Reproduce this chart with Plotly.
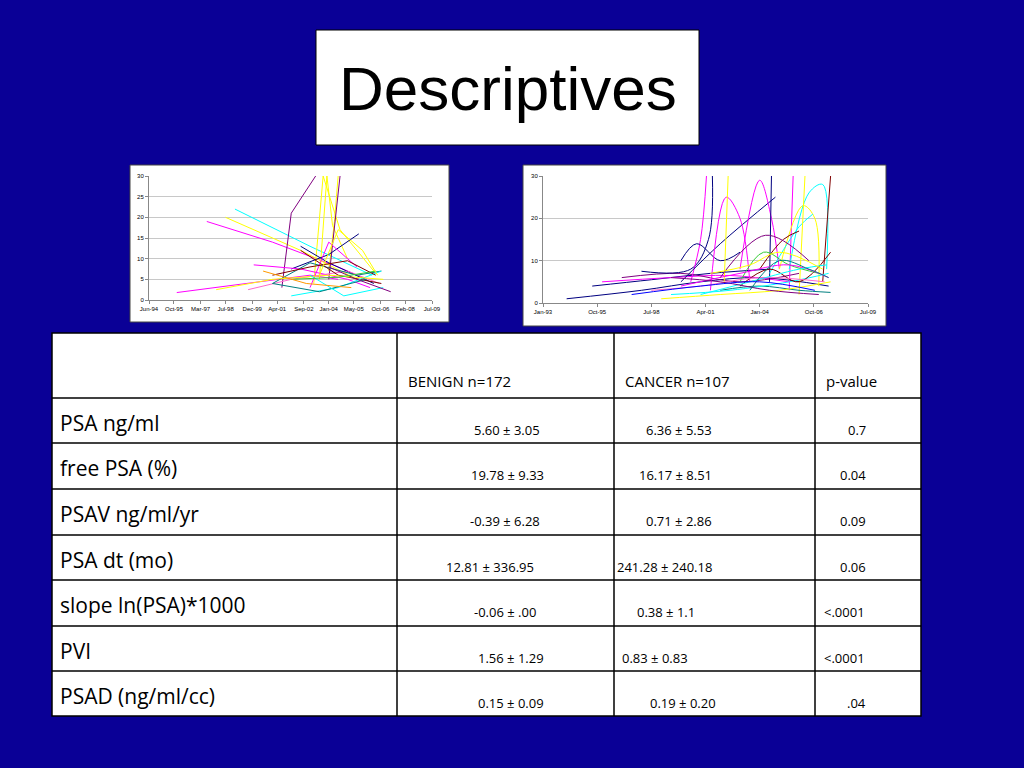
import plotly.graph_objects as go

BG = "#0A0096"
PAL = ["#000080", "#FF00FF", "#FFFF00", "#00FFFF", "#800080", "#800000", "#008080", "#0000FF",
       "#FF66CC", "#33CC33", "#FF9900", "#9999FF"]

# chart 1 (benign) trajectories: x in decimal years, y PSA
benign_x = [
    [1995.9, 1999.5, 2003.0, 2004.5], [1997.5, 2001.0, 2004.5, 2006.0], [1998.5, 2002.5, 2005.5],
    [1999.0, 2003.0, 2006.3], [2001.5, 2002.0, 2003.3], [2003.5, 2003.9, 2004.2, 2005.0],
    [2003.2, 2003.7, 2004.6, 2006.4], [2004.0, 2004.3, 2004.5], [2004.0, 2004.3, 2004.6],
    [2002.5, 2004.0, 2006.4], [2002.0, 2004.0, 2005.6], [2000.0, 2002.5, 2005.0, 2006.2],
    [1999.7, 2002.0, 2005.0, 2006.7], [2001.0, 2003.0, 2005.5, 2006.8], [2002.5, 2004.5, 2006.8],
    [2003.0, 2004.0, 2005.5], [2002.0, 2004.5, 2006.8], [2001.0, 2003.5, 2006.0],
    [1998.0, 2001.0, 2004.0, 2006.9], [2003.0, 2004.8, 2006.9], [2004.0, 2005.5, 2007.3],
    [2001.0, 2003.0, 2005.0, 2006.5], [2002.0, 2004.5, 2006.5], [2003.5, 2004.5, 2005.8, 2006.6],
    [2000.5, 2002.8, 2005.2],
]
benign_y = [
    [1.8, 4.0, 6.0, 5.0], [19, 14, 8, 5], [20, 12, 5], [22, 13, 6], [3, 21, 30], [5, 30, 18, 10],
    [4, 30, 17, 7], [7, 19, 30], [5, 18, 30], [13, 9, 4], [7.5, 11, 16], [8.5, 7.5, 5, 3],
    [2.5, 5, 7, 4], [4, 9, 6, 7], [12, 6, 4], [3, 14, 8], [1, 3, 7], [4, 2, 5], [2.5, 5, 6, 5],
    [6, 1, 3], [8, 5, 2], [6, 8, 9.5, 6], [5, 5.5, 7], [6, 17, 12, 6], [7, 4, 3],
]
benign_c = [1, 1, 2, 3, 4, 2, 2, 2, 4, 0, 0, 1, 8, 6, 5, 1, 3, 6, 2, 3, 4, 5, 9, 2, 10]

cancer_x = [
    [1994.2, 1998.0, 2001.0, 2004.0, 2007.5], [1995.5, 1998.5, 2001.5, 2004.5], [1996.0, 1999.5, 2002.5, 2005.5],
    [1997.0, 2000.0, 2003.0, 2006.0], [1998.0, 2000.5, 2001.4, 2001.6], [2000.5, 2001.0, 2001.3],
    [2000.0, 2002.0, 2004.8], [2000.0, 2000.8, 2002.0, 2003.0], [2001.5, 2002.3, 2003.0, 2003.5],
    [2002.2, 2002.4], [2003.0, 2004.0, 2004.6, 2005.0], [2004.5, 2004.6], [2005.5, 2005.7],
    [2005.0, 2006.2, 2006.8, 2007.0], [2005.5, 2006.5, 2007.2, 2007.4], [2004.5, 2006.0, 2006.7],
    [2006.0, 2006.3], [2007.2, 2007.6], [2002.0, 2004.0, 2006.0, 2007.6], [1999.0, 2002.0, 2005.0, 2007.6],
    [1999.5, 2002.5, 2005.5, 2007.5], [2003.0, 2004.5, 2006.0, 2007.6], [2004.0, 2005.2, 2006.0],
    [2003.0, 2004.2, 2005.5, 2007.0], [1998.5, 2001.0, 2004.0, 2007.3], [2000.0, 2003.0, 2005.5, 2007.5],
    [2001.0, 2003.5, 2006.0, 2007.4], [1999.5, 2002.0, 2004.5, 2007.0], [2002.0, 2004.3, 2006.5],
    [2003.5, 2005.0, 2006.5, 2007.5], [1997.5, 2001.0, 2004.0, 2006.8], [2001.5, 2003.5, 2005.0, 2007.2],
]
cancer_y = [
    [1, 3, 5, 6, 4], [4, 5.5, 7, 8], [5, 6, 6.5, 5], [6, 7, 5, 7], [7.5, 8, 15, 30], [5, 15, 30],
    [5, 14, 25], [10, 14, 10, 12], [3, 25, 20, 5], [5, 30], [8, 29, 20, 8], [5, 30], [3, 30],
    [8, 23, 20, 4], [8, 26, 28, 8], [7, 18, 21], [2, 30], [5, 30], [3, 4, 3, 2.5], [1, 2, 3, 5],
    [2, 3, 5, 7], [4, 8, 5, 12], [8, 15, 17], [5, 12, 9, 7], [3, 4, 6, 5], [4, 7, 9, 6],
    [2, 5, 8, 9], [6, 5, 3, 2], [6, 16, 10], [3, 10, 8, 6], [2, 4, 5, 3], [7, 9, 12, 8],
]
cancer_c = [0, 0, 1, 4, 0, 1, 0, 0, 1, 2, 1, 0, 1, 2, 3, 3, 2, 5, 6, 2, 3, 5, 5, 9, 8, 1, 3, 4, 4, 6, 7, 2]

ticks1 = [1994.42, 1995.75, 1997.17, 1998.5, 1999.92, 2001.25, 2002.67, 2004.0, 2005.33, 2006.75, 2008.08, 2009.5]
labels1 = ["Jun-94", "Oct-95", "Mar-97", "Jul-98", "Dec-99", "Apr-01", "Sep-02", "Jan-04", "May-05", "Oct-06", "Feb-08", "Jul-09"]
ticks2 = [1993.0, 1995.75, 1998.5, 2001.25, 2004.0, 2006.75, 2009.5]
labels2 = ["Jan-93", "Oct-95", "Jul-98", "Apr-01", "Jan-04", "Oct-06", "Jul-09"]

col_heads = ["", "BENIGN n=172", "CANCER n=107", "p-value"]
row_labels = ["PSA ng/ml", "free PSA (%)", "PSAV ng/ml/yr", "PSA dt (mo)", "slope ln(PSA)*1000", "PVI", "PSAD (ng/ml/cc)"]
benign_vals = ["5.60 ± 3.05", "19.78 ± 9.33", "-0.39 ± 6.28", "12.81 ± 336.95", "-0.06 ± .00", "1.56 ± 1.29", "0.15 ± 0.09"]
cancer_vals = ["6.36 ± 5.53", "16.17 ± 8.51", "0.71 ± 2.86", "241.28 ± 240.18", "0.38 ± 1.1", "0.83 ± 0.83", "0.19 ± 0.20"]
p_vals = ["0.7", "0.04", "0.09", "0.06", "<.0001", "<.0001", ".04"]

OFF = 8
W, H = 1024 - 2 * OFF, 768 - 2 * OFF
def px(x): return (x - OFF) / W
def py(y): return 1 - (y - OFF) / H

fig = go.Figure()
for xs, ys, c in zip(benign_x, benign_y, benign_c):
    fig.add_trace(go.Scatter(x=xs, y=ys, mode="lines", line=dict(color=PAL[c], width=1),
                             xaxis="x", yaxis="y", showlegend=False, hoverinfo="skip"))
for xs, ys, c in zip(cancer_x, cancer_y, cancer_c):
    fig.add_trace(go.Scatter(x=xs, y=ys, mode="lines", line=dict(color=PAL[c], width=1, shape="spline"),
                             xaxis="x2", yaxis="y2", showlegend=False, hoverinfo="skip"))

ax = dict(showgrid=False, showline=True, linecolor="#888", ticks="outside", ticklen=3, tickcolor="#888",
          tickfont=dict(size=6, family="Arial", color="#000"), zeroline=False, tickangle=0)
ay = dict(showgrid=True, gridcolor="#C8C8C8", showline=True, linecolor="#888", ticks="outside", ticklen=3,
          tickcolor="#888", tickfont=dict(size=6, family="Arial", color="#000"), zeroline=False, range=[0, 30])

shapes = [
    dict(type="rect", xref="paper", yref="paper", x0=px(316), x1=px(699), y0=py(145), y1=py(30),
         fillcolor="white", line=dict(color="black", width=1), layer="below"),
    dict(type="rect", xref="paper", yref="paper", x0=px(130), x1=px(449), y0=py(322), y1=py(165),
         fillcolor="white", line=dict(color="#444", width=1), layer="below"),
    dict(type="rect", xref="paper", yref="paper", x0=px(523), x1=px(886), y0=py(326), y1=py(165),
         fillcolor="white", line=dict(color="#444", width=1), layer="below"),
    dict(type="rect", xref="paper", yref="paper", x0=px(52), x1=px(921), y0=py(716), y1=py(333),
         fillcolor="white", line=dict(color="black", width=1.5), layer="below"),
]
colx = [52, 397, 614, 815, 921]
rowy = [333, 398, 443, 489, 535, 580, 626, 671, 716]
for x in colx[1:-1]:
    shapes.append(dict(type="line", xref="paper", yref="paper", x0=px(x), x1=px(x), y0=py(333), y1=py(716),
                       line=dict(color="black", width=1.5)))
for y in rowy[1:-1]:
    shapes.append(dict(type="line", xref="paper", yref="paper", x0=px(52), x1=px(921), y0=py(y), y1=py(y),
                       line=dict(color="black", width=1.5)))

ann = [dict(text="Descriptives", x=px(508), y=py(88), xref="paper", yref="paper", showarrow=False,
            yanchor="middle", font=dict(size=62, family="Liberation Sans, Arial", color="black"))]
for i, h in enumerate(col_heads[1:]):
    ann.append(dict(text=h, x=px(colx[i + 1] + 9), y=py(381), xref="paper", yref="paper", showarrow=False,
                    xanchor="left", yanchor="middle", font=dict(size=15, family="Open Sans, Arial", color="black")))
val_x = [[507, 507, 505, 490, 505, 511, 511], [714, 714, 714, 714, 697, 690, 718], [868, 868, 868, 868, 867, 867, 868]]
for r in range(7):
    top = rowy[r + 1]
    ann.append(dict(text=row_labels[r], x=px(58), y=py(top + 25), xref="paper", yref="paper", showarrow=False,
                    xanchor="left", yanchor="middle", font=dict(size=21, family="Open Sans, Arial", color="black")))
    for k, vals in enumerate([benign_vals, cancer_vals, p_vals]):
        ann.append(dict(text=vals[r], x=px(val_x[k][r]), y=py(top + 32), xref="paper", yref="paper",
                        showarrow=False, yanchor="middle",
                        font=dict(size=13, family="Open Sans, Arial", color="black")))

fig.update_layout(
    width=W, height=H, margin=dict(l=0, r=0, t=0, b=0, pad=0, autoexpand=False),
    paper_bgcolor=BG, plot_bgcolor="white",
    xaxis=dict(ax, domain=[px(149), px(432)], range=[1994.42, 2009.5], tickvals=ticks1, ticktext=labels1, anchor="y"),
    yaxis=dict(ay, domain=[py(300), py(176)], dtick=5, anchor="x"),
    xaxis2=dict(ax, domain=[px(543), px(868)], range=[1993.0, 2009.5], tickvals=ticks2, ticktext=labels2, anchor="y2"),
    yaxis2=dict(ay, domain=[py(303), py(176)], dtick=10, anchor="x2"),
    shapes=shapes, annotations=ann,
)
fig.write_html("out.html", post_script="document.body.style.background='%s';" % BG)
